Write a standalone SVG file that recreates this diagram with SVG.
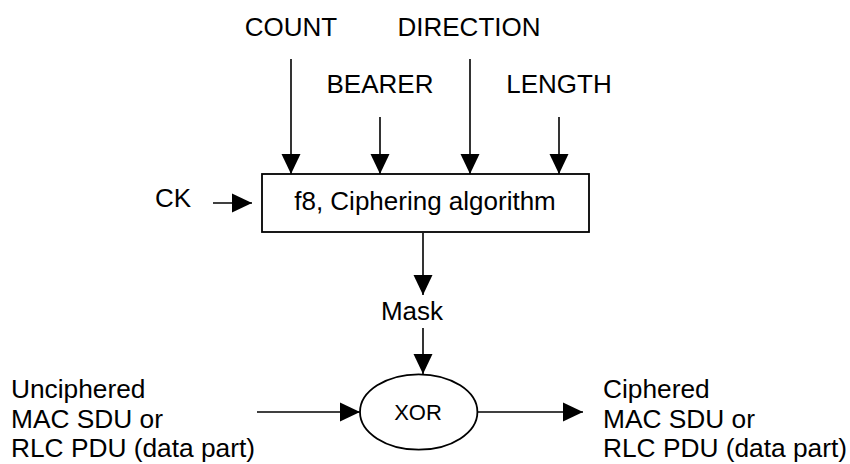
<svg xmlns="http://www.w3.org/2000/svg" width="850" height="464" viewBox="0 0 850 464">
<style>
text{font-family:"Liberation Sans",Arial,sans-serif;font-size:26px;fill:#000}
.c{text-anchor:middle}
.b{font-size:26.3px}
.ln{stroke:#000;stroke-width:1.6;fill:none}
.sh{stroke:#000;stroke-width:1.8;fill:#fff}
</style>
<defs>
<marker id="ah" markerUnits="userSpaceOnUse" markerWidth="20" markerHeight="20" refX="20" refY="9.5" orient="auto" viewBox="0 0 20 19">
<path d="M0,0 L20,9.5 L0,19 z" fill="#000"/>
</marker>
</defs>
<g id="connectors">
<line class="ln" x1="291" y1="59" x2="291" y2="174" marker-end="url(#ah)"/>
<line class="ln" x1="380" y1="117" x2="380" y2="174" marker-end="url(#ah)"/>
<line class="ln" x1="470" y1="59" x2="470" y2="174" marker-end="url(#ah)"/>
<line class="ln" x1="559" y1="117" x2="559" y2="174" marker-end="url(#ah)"/>
<line class="ln" x1="213" y1="203" x2="252" y2="203" marker-end="url(#ah)"/>
<line class="ln" x1="423" y1="233" x2="423" y2="295" marker-end="url(#ah)"/>
<line class="ln" x1="423" y1="328" x2="423" y2="374" marker-end="url(#ah)"/>
<line class="ln" x1="257" y1="412" x2="360" y2="412" marker-end="url(#ah)"/>
<line class="ln" x1="477" y1="412" x2="583" y2="412" marker-end="url(#ah)"/>
</g>
<g id="count"><text class="c" x="291" y="36">COUNT</text></g>
<g id="direction"><text class="c" x="469" y="36">DIRECTION</text></g>
<g id="bearer"><text class="c" x="380" y="93">BEARER</text></g>
<g id="length"><text class="c" x="559" y="93">LENGTH</text></g>
<g id="ck"><text x="155" y="207">CK</text></g>
<g id="f8">
<rect class="sh" x="262" y="174" width="327" height="58"/>
<text class="c" x="425" y="210">f8, Ciphering algorithm</text>
</g>
<g id="mask"><text class="c" x="412" y="320">Mask</text></g>
<g id="xor">
<ellipse class="sh" cx="418.7" cy="412" rx="58.7" ry="37.7"/>
<text class="c" x="418" y="420" style="font-size:22px">XOR</text>
</g>
<g id="input">
<text class="b" x="11" y="398">Unciphered</text>
<text class="b" x="11" y="428">MAC SDU or</text>
<text class="b" x="11" y="457">RLC PDU (data part)</text>
</g>
<g id="output">
<text class="b" x="603" y="398">Ciphered</text>
<text class="b" x="603" y="428">MAC SDU or</text>
<text class="b" x="603" y="457">RLC PDU (data part)</text>
</g>
</svg>
